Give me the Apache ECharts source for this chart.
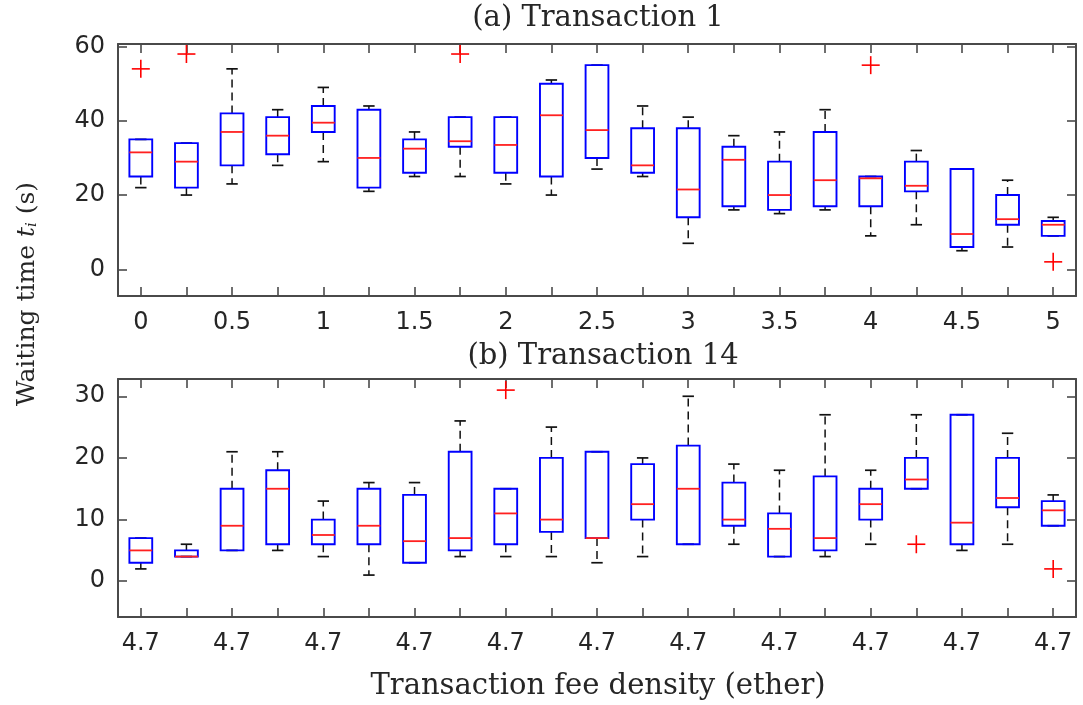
<!DOCTYPE html>
<html>
<head>
<meta charset="utf-8">
<script src="https://cdn.jsdelivr.net/npm/echarts@6/dist/echarts.min.js"></script>
<style>html,body{margin:0;padding:0;background:#fff;}#chart{width:1083px;height:705px;}</style>
</head>
<body>
<div id="chart"></div>
<script>
// ---- data ----
const topCategories = ['0','0.25','0.5','0.75','1','1.25','1.5','1.75','2','2.25','2.5','2.75','3','3.25','3.5','3.75','4','4.25','4.5','4.75','5'];
// [lower whisker, Q1, median, Q3, upper whisker]
const topStats = [
  [22, 25, 31.5, 35, 35],
  [20, 22, 29, 34, 34],
  [23, 28, 37, 42, 54],
  [28, 31, 36, 41, 43],
  [29, 37, 39.5, 44, 49],
  [21, 22, 30, 43, 44],
  [25, 26, 32.5, 35, 37],
  [25, 33, 34.5, 41, 41],
  [23, 26, 33.5, 41, 41],
  [20, 25, 41.5, 50, 51],
  [27, 30, 37.5, 55, 55],
  [25, 26, 28, 38, 44],
  [7, 14, 21.5, 38, 41],
  [16, 17, 29.5, 33, 36],
  [15, 16, 20, 29, 37],
  [16, 17, 24, 37, 43],
  [9, 17, 24.5, 25, 25],
  [12, 21, 22.5, 29, 32],
  [5, 6, 9.5, 27, 27],
  [6, 12, 13.5, 20, 24],
  [9, 9, 12, 13, 14]
];
const topOutliers = [[0, 54], [1, 58], [7, 58], [16, 55], [20, 2]];
const topYTicks = [0, 20, 40, 60];

const bottomCategories = ['4.7','4.7','4.7','4.7','4.7','4.7','4.7','4.7','4.7','4.7','4.7','4.7','4.7','4.7','4.7','4.7','4.7','4.7','4.7','4.7','4.7'];
const bottomStats = [
  [2, 3, 5, 7, 7],
  [4, 4, 4, 5, 6],
  [5, 5, 9, 15, 21],
  [5, 6, 15, 18, 21],
  [4, 6, 7.5, 10, 13],
  [1, 6, 9, 15, 16],
  [3, 3, 6.5, 14, 16],
  [4, 5, 7, 21, 26],
  [4, 6, 11, 15, 15],
  [4, 8, 10, 20, 25],
  [3, 7, 7, 21, 21],
  [4, 10, 12.5, 19, 20],
  [6, 6, 15, 22, 30],
  [6, 9, 10, 16, 19],
  [4, 4, 8.5, 11, 18],
  [4, 5, 7, 17, 27],
  [6, 10, 12.5, 15, 18],
  [15, 15, 16.5, 20, 27],
  [5, 6, 9.5, 27, 27],
  [6, 12, 13.5, 20, 24],
  [9, 9, 11.5, 13, 14]
];
const bottomOutliers = [[8, 31], [17, 6], [20, 2]];
const bottomYTicks = [0, 10, 20, 30];

const titleTop = '(a) Transaction 1';
const titleBottom = '(b) Transaction 14';
const xTitle = 'Transaction fee density (ether)';

// ---- rendering ----
const chart = echarts.init(document.getElementById('chart'), null, {renderer: 'canvas'});
const AX = '#4a4a4a';
const TXT = '#262626';
const SANS = 'DejaVu Sans';
const SERIF = 'DejaVu Serif';

function renderBox(params, api) {
  const i = api.value(0);
  const lo = api.value(1), q1 = api.value(2), med = api.value(3), q3 = api.value(4), hi = api.value(5);
  const band = api.size([1, 0])[0];
  const bw = band * 0.25, cw = band * 0.125;
  const pLo = api.coord([i, lo]), pQ1 = api.coord([i, q1]), pMed = api.coord([i, med]);
  const pQ3 = api.coord([i, q3]), pHi = api.coord([i, hi]);
  const x = pMed[0];
  const dash = {stroke: '#111', lineWidth: 1.5, lineDash: [8, 5], fill: null};
  const solid = {stroke: '#111', lineWidth: 1.7, fill: null};
  const children = [];
  if (pHi[1] < pQ3[1] - 0.5) children.push({type: 'line', shape: {x1: x, y1: pQ3[1], x2: x, y2: pHi[1]}, style: dash});
  if (pLo[1] > pQ1[1] + 0.5) children.push({type: 'line', shape: {x1: x, y1: pQ1[1], x2: x, y2: pLo[1]}, style: dash});
  children.push({type: 'line', shape: {x1: x - cw, y1: pHi[1], x2: x + cw, y2: pHi[1]}, style: solid});
  children.push({type: 'line', shape: {x1: x - cw, y1: pLo[1], x2: x + cw, y2: pLo[1]}, style: solid});
  children.push({type: 'rect', shape: {x: x - bw, y: pQ3[1], width: 2 * bw, height: Math.max(pQ1[1] - pQ3[1], 0.5)},
    style: {stroke: '#0000ff', lineWidth: 1.9, fill: null}});
  children.push({type: 'line', shape: {x1: x - bw, y1: pMed[1], x2: x + bw, y2: pMed[1]},
    style: {stroke: '#ff2020', lineWidth: 1.8}});
  return {type: 'group', children: children};
}

function renderOutlier(params, api) {
  const p = api.coord([api.value(0), api.value(1)]);
  const h = 9;
  const st = {stroke: '#ff0000', lineWidth: 1.6};
  return {type: 'group', children: [
    {type: 'line', shape: {x1: p[0] - h, y1: p[1], x2: p[0] + h, y2: p[1]}, style: st},
    {type: 'line', shape: {x1: p[0], y1: p[1] - h, x2: p[0], y2: p[1] + h}, style: st}
  ]};
}

function xAxes(gridIndex, cats) {
  const base = {
    gridIndex: gridIndex, type: 'category', data: cats, boundaryGap: true,
    axisLine: {show: true, onZero: false, lineStyle: {color: AX, width: 2}},
    axisTick: {show: true, inside: true, alignWithLabel: true, interval: 0, length: 9, lineStyle: {color: AX, width: 1.6}},
    splitLine: {show: false}
  };
  return [
    Object.assign({}, base, {position: 'bottom',
      axisLabel: {show: true, interval: 1, margin: 15, color: TXT, fontFamily: SANS, fontSize: 24}}),
    Object.assign({}, base, {position: 'top', axisLabel: {show: false}})
  ];
}
function yAxes(gridIndex, min, max, ticks) {
  const base = {
    gridIndex: gridIndex, type: 'value', min: min, max: max,
    axisLine: {show: true, onZero: false, lineStyle: {color: AX, width: 2}},
    axisTick: {show: true, inside: true, length: 9, customValues: ticks, lineStyle: {color: AX, width: 1.6}},
    splitLine: {show: false}
  };
  return [
    Object.assign({}, base, {position: 'left',
      axisLabel: {show: true, customValues: ticks, margin: 13, color: TXT, fontFamily: SANS, fontSize: 24}}),
    Object.assign({}, base, {position: 'right', axisLabel: {show: false}})
  ];
}

const toRows = stats => stats.map((s, i) => [i].concat(s));

const option = {
  backgroundColor: '#fff',
  animation: false,
  grid: [
    {left: 118, top: 44, width: 958, height: 252},
    {left: 118, top: 379, width: 958, height: 238}
  ],
  xAxis: xAxes(0, topCategories).concat(xAxes(1, bottomCategories)),
  yAxis: yAxes(0, -7.2, 60.7, topYTicks).concat(yAxes(1, -5.8, 32.8, bottomYTicks)),
  series: [
    {type: 'custom', xAxisIndex: 0, yAxisIndex: 0, renderItem: renderBox, data: toRows(topStats),
      encode: {x: 0, y: [1, 2, 3, 4, 5]}, clip: false},
    {type: 'custom', xAxisIndex: 0, yAxisIndex: 0, renderItem: renderOutlier, data: topOutliers,
      encode: {x: 0, y: 1}},
    {type: 'custom', xAxisIndex: 2, yAxisIndex: 2, renderItem: renderBox, data: toRows(bottomStats),
      encode: {x: 0, y: [1, 2, 3, 4, 5]}, clip: false},
    {type: 'custom', xAxisIndex: 2, yAxisIndex: 2, renderItem: renderOutlier, data: bottomOutliers,
      encode: {x: 0, y: 1}}
  ],
  graphic: [
    {type: 'text', x: 598, y: 18, style: {text: titleTop, font: '29px "' + SERIF + '"', fill: TXT, align: 'center', verticalAlign: 'middle'}},
    {type: 'text', x: 603, y: 356, style: {text: titleBottom, font: '29px "' + SERIF + '"', fill: TXT, align: 'center', verticalAlign: 'middle'}},
    {type: 'text', x: 598, y: 686, style: {text: xTitle, font: '29px "' + SERIF + '"', fill: TXT, align: 'center', verticalAlign: 'middle'}},
    {type: 'text', x: 27, y: 294, rotation: Math.PI / 2,
      style: {text: 'Waiting time {t|t}{s|i} (s)', fontFamily: SERIF, fontSize: 25, fill: TXT, align: 'center', verticalAlign: 'middle',
        rich: {
          t: {fontFamily: SERIF, fontSize: 25, fontStyle: 'italic', fill: TXT},
          s: {fontFamily: SERIF, fontSize: 15, fontStyle: 'italic', fill: TXT, padding: [10, 0, 0, 0]}
        }}}
  ]
};
chart.setOption(option);
</script>
</body>
</html>
